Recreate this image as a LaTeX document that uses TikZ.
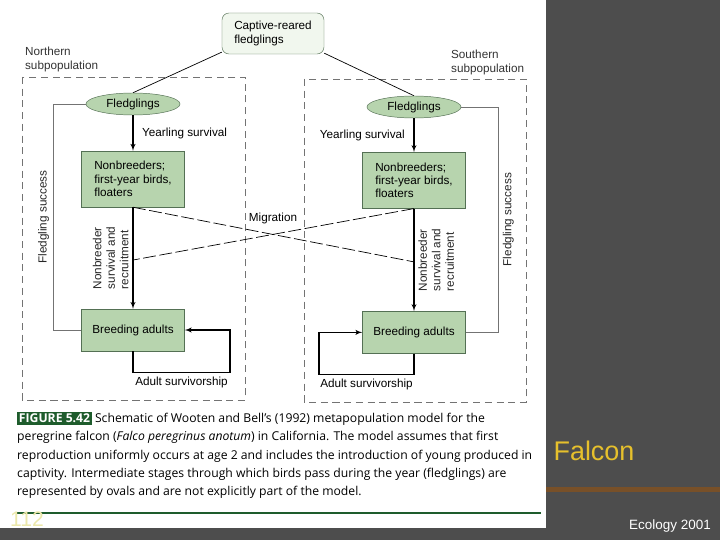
\documentclass[tikz,border=0pt]{standalone}
\usepackage{fontspec}
\setmainfont{Liberation Sans}
\newfontfamily\capfont{Open Sans}
\usepackage{tikz}
\usetikzlibrary{arrows,shapes.geometric}
\setlength{\fboxsep}{1.5pt}

\definecolor{boxfill}{RGB}{183,212,174}
\definecolor{boxline}{RGB}{84,112,84}
\definecolor{palefill}{RGB}{241,247,238}
\definecolor{figgreen}{RGB}{30,92,44}
\definecolor{slidegray}{RGB}{77,77,77}
\definecolor{falconyellow}{RGB}{230,192,44}
\definecolor{pageyellow}{RGB}{236,232,170}
\definecolor{stripbrown}{RGB}{120,80,40}
\definecolor{stripred}{RGB}{190,90,40}

\tikzstyle{stage} = [ellipse, draw=boxline, fill=boxfill, 
    minimum width=2.82cm, minimum height=0.66cm, inner sep=0pt]
\tikzstyle{block} = [rectangle, draw=boxline, fill=boxfill, 
    align=left, minimum width=3.09cm, minimum height=1.68cm]
\tikzstyle{source} = [rectangle, rounded corners=6pt, draw=boxline, fill=palefill, 
    align=left, minimum width=3.06cm, minimum height=1.23cm]
\tikzstyle{line} = [draw, -latex', line width=1pt]
\tikzstyle{feed} = [draw, black!55, semithick]
\tikzstyle{migrate} = [draw, semithick, dash pattern=on 11pt off 3pt]
\tikzstyle{subpop} = [draw, black!55, semithick, dash pattern=on 6pt off 4pt]
\tikzstyle{vlabel} = [rotate=90, align=left, text=black!85]

\begin{document}
\begin{tikzpicture}[x=0.03cm,y=-0.03cm,auto,font=\fontsize{10}{11.5}\selectfont]

    \useasboundingbox (0,0) rectangle (720,540);
    \fill [slidegray] (0,0) rectangle (720,540);
    \fill [white] (0,0) rectangle (546,528);

    % subpopulations
    \draw [subpop] (22,77) rectangle (245,400);
    \draw [subpop] (304,79) rectangle (526,402);
    \node [align=left, anchor=north west, text=black!80] (north) at (21,43) {Northern\\subpopulation};
    \node [align=left, anchor=north west, text=black!80] (south) at (447,46) {Southern\\subpopulation};

    \node [source] (captive) at (273,33.5) {Captive-reared\\fledglings};

    \node [stage] (fledgL) at (133,104) {Fledglings};
    \node [block, node distance=2.25cm, below of=fledgL] (nonbrL) {Nonbreeders;\\first-year birds,\\floaters};
    \node [block, node distance=4.53cm, minimum height=1.26cm, below of=nonbrL] (breedL) {Breeding adults};

    \node [stage] (fledgR) at (414,107) {Fledglings};
    \node [block, node distance=2.2cm, below of=fledgR] (nonbrR) {Nonbreeders;\\first-year birds,\\floaters};
    \node [block, node distance=4.56cm, minimum height=1.26cm, below of=nonbrR] (breedR) {Breeding adults};

    % Draw edges
    \path [draw, semithick] (captive.200) -- (fledgL.north);
    \path [draw, semithick] (captive.-21) -- (fledgR.north);
    \path [line] (fledgL) -- node [xshift=4pt] {Yearling survival} (nonbrL);
    \path [line] (fledgR) -- node [swap, xshift=-4pt] {Yearling survival} (nonbrR);
    \path [line] (nonbrL) -- coordinate [pos=0.52] (joinL) node [vlabel, anchor=south] {Nonbreeder\\survival and\\recruitment} (breedL);
    \path [line] (nonbrR) -- coordinate [pos=0.52] (joinR) node [vlabel, anchor=north] {Nonbreeder\\survival and\\recruitment} (breedR);
    \path [migrate] (nonbrL.south) -- (joinR);
    \path [migrate] (nonbrR.south) -- (joinL);
    \node (migr) at (273,218) {Migration};
    \path [feed] (breedL.west) --++ (-28,0) |- node [vlabel, pos=0.25, anchor=south] {Fledgling success} (fledgL.west);
    \path [feed] (breedR.east) --++ (33,0) |- node [vlabel, pos=0.25, anchor=north] {Fledgling success} (fledgR.east);
    \path [line] (breedL.south) |- ++(97,21) node [pos=0.75, below] {Adult survivorship} |- (breedL.east);
    \path [line] (breedR.south) |- ++(-95,21) node [pos=0.75, below] {Adult survivorship} |- (breedR.west);

    % caption
    \node [anchor=north west, align=left, inner sep=0pt, font=\capfont\fontsize{10.4}{15.5}\selectfont] (caption) at (17,412)
        {\colorbox{figgreen}{\textcolor{white}{\bfseries FIGURE 5.42}} Schematic of Wooten and Bell’s (1992) metapopulation model for the\\
        peregrine falcon (\textit{Falco peregrinus anotum}) in California. The model assumes that first\\
        reproduction uniformly occurs at age 2 and includes the introduction of young produced in\\
        captivity. Intermediate stages through which birds pass during the year (fledglings) are\\
        represented by ovals and are not explicitly part of the model.};
    \draw [figgreen, line width=1.4pt] (17,513) -- (541,513);

    % slide
    \shade [left color=stripbrown, middle color=stripred, right color=stripbrown] (546,487) rectangle (720,491);
    \node [text=falconyellow, font=\fontsize{23}{23}\selectfont] (title) at (594,451) {Falcon};
    \node [text=white, font=\fontsize{11.5}{12}\selectfont] (footer) at (670,526) {Ecology 2001};
    \node [text=pageyellow, anchor=west, font=\fontsize{18}{18}\selectfont] (pagenum) at (6,519) {112};

\end{tikzpicture}
\end{document}
